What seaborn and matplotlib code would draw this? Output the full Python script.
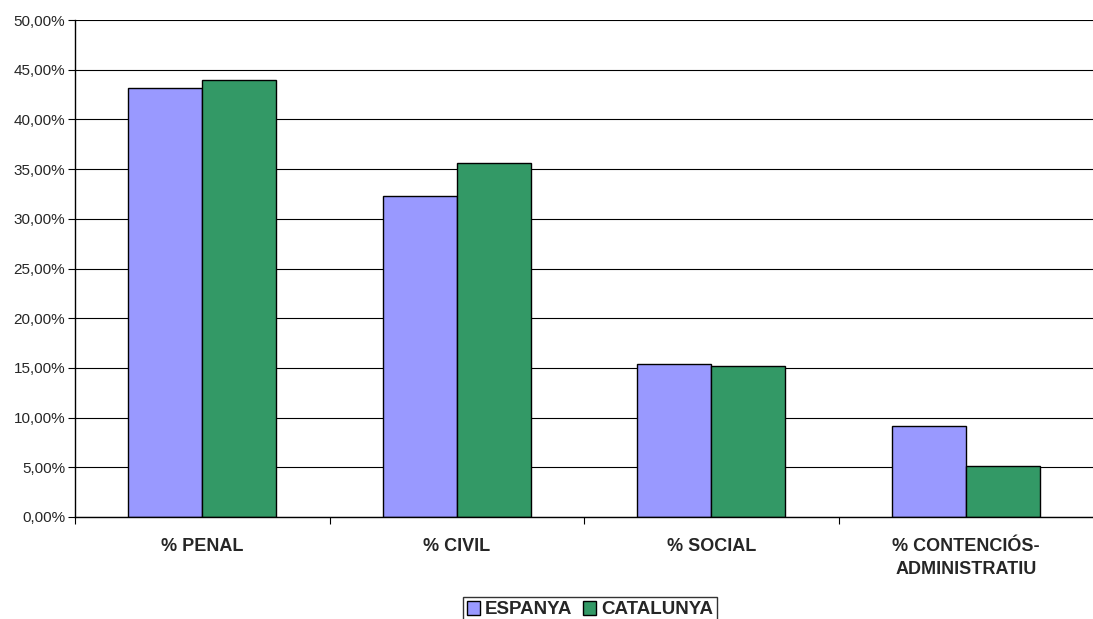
import numpy as np
import pandas as pd
import matplotlib
matplotlib.use("Agg")
import matplotlib.pyplot as plt
from matplotlib.ticker import FuncFormatter, FixedLocator
import seaborn as sns

# values (percent)
categories = ["% PENAL", "% CIVIL", "% SOCIAL", "% CONTENCIÓS-\nADMINISTRATIU"]
espanya = [43.15, 32.3, 15.36, 9.2]
catalunya = [44.0, 35.6, 15.22, 5.16]
series = ["ESPANYA", "CATALUNYA"]
colors = ["#9999FF", "#339966"]

df = pd.DataFrame({
    "cat": categories * 2,
    "serie": [series[0]] * 4 + [series[1]] * 4,
    "val": espanya + catalunya,
})

sns.set_style("white")
plt.rcParams["font.family"] = ["Liberation Sans", "DejaVu Sans"]

fig = plt.figure(figsize=(10.93, 6.19), dpi=100)
ax = fig.add_axes([75 / 1093, 1 - 517 / 619, 1 - 75 / 1093, 497 / 619])

sns.barplot(data=df, x="cat", y="val", hue="serie", palette=colors,
            width=0.58, edgecolor="black", linewidth=1.0, saturation=1,
            legend=False, ax=ax)

ax.set_ylim(0, 50)
ax.set_xlim(-0.5, 3.5)
ax.set_yticks(np.arange(0, 51, 5))
ax.yaxis.set_major_formatter(FuncFormatter(lambda v, p: f"{v:.2f}%".replace(".", ",")))
ax.grid(axis="y", color="black", linewidth=0.8)
ax.set_axisbelow(True)
ax.set_xlabel("")
ax.set_ylabel("")

for s in ["top", "right"]:
    ax.spines[s].set_visible(False)
ax.spines["left"].set_color("black")
ax.spines["bottom"].set_color("black")
ax.spines["left"].set_linewidth(1.0)
ax.spines["bottom"].set_linewidth(1.0)

ax.tick_params(axis="y", direction="out", length=5, width=0.8, color="black",
               labelsize=11, pad=2, left=True)
ax.tick_params(axis="x", which="major", length=0, pad=15)
ax.xaxis.set_minor_locator(FixedLocator([-0.5, 0.5, 1.5, 2.5]))
ax.tick_params(axis="x", which="minor", direction="out", length=5, width=0.8,
               color="black", bottom=True)
for lbl in ax.get_xticklabels():
    lbl.set_fontweight("bold")
    lbl.set_fontsize(13)
    lbl.set_linespacing(1.45)

handles = [plt.Rectangle((0, 0), 1, 1, facecolor=c, edgecolor="black", linewidth=1.0)
           for c in colors]
leg = fig.legend(handles, series, loc="upper center", bbox_to_anchor=(590 / 1093, 1 - 597 / 619),
                 ncol=2, frameon=True, fancybox=False, handlelength=0.7,
                 handleheight=0.8, handletextpad=0.25, columnspacing=0.6,
                 borderpad=0.2, borderaxespad=0, prop={"weight": "bold", "size": 13.5})
leg.get_frame().set_edgecolor("black")
leg.get_frame().set_linewidth(1.0)

fig.savefig("out.png", dpi=100)
